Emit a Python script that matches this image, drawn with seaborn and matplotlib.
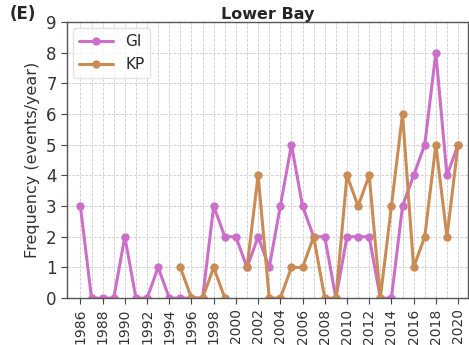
import numpy as np
import pandas as pd
import matplotlib
matplotlib.use("Agg")
import matplotlib.pyplot as plt
import seaborn as sns

years = list(range(1986, 2021))
gi = [3, 0, 0, 0, 2, 0, 0, 1, 0, 0, 0, 0, 3, 2, 2, 1, 2, 1, 3, 5, 3, 2, 2, 0, 2, 2, 2, 0, 0, 3, 4, 5, 8, 4, 5]
kp = [np.nan]*9 + [1, 0, 0, 1, 0, np.nan, 1, 4, 0, 0, 1, 1, 2, 0, 0, 4, 3, 4, 0, 3, 6, 1, 2, 5, 2, 5]

df = pd.DataFrame({"Year": years, "GI": gi, "KP": kp})
# segment ids so that gaps (missing years) are not bridged
df["seg"] = df["KP"].isna().cumsum()
kp_df = df.dropna(subset=["KP"])

sns.set_style("ticks")
plt.rcParams["font.family"] = ["DejaVu Sans"]

fig = plt.figure(figsize=(4.69, 3.45), dpi=100)
ax = fig.add_axes([0.143, 0.136, 0.855, 0.800])

c_gi = "#CC6FC8"
c_kp = "#C98C55"
sns.lineplot(data=df, x="Year", y="GI", ax=ax, color=c_gi, marker="o", markersize=6,
             markeredgewidth=0, linewidth=2.2, label="GI")
sns.lineplot(data=kp_df, x="Year", y="KP", ax=ax, color=c_kp, marker="o", markersize=6,
             markeredgewidth=0, linewidth=2.2, units="seg", estimator=None, label="KP")

ax.set_xlim(1984.8, 2020.9)
ax.set_ylim(0, 9)
ax.set_xticks(range(1986, 2021, 2))
ax.set_xticks(range(1986, 2021), minor=True)
ax.set_xticklabels([str(y) for y in range(1986, 2021, 2)], rotation=90, fontsize=10, color="#333333")
ax.set_yticks(range(0, 10))
ax.set_yticklabels([str(v) for v in range(0, 10)], fontsize=12, color="#333333")
ax.tick_params(axis="x", which="minor", length=0)
ax.tick_params(axis="both", which="major", length=4, color="#444444")
ax.grid(True, which="both", axis="x", linestyle="--", linewidth=0.6, color="#cccccc")
ax.grid(True, which="major", axis="y", linestyle="--", linewidth=0.6, color="#cccccc")
ax.set_axisbelow(True)
for s in ax.spines.values():
    s.set_visible(True)
    s.set_color("#555555")
    s.set_linewidth(1.0)

ax.set_xlabel("")
ax.set_ylabel("Frequency (events/year)", fontsize=11.5, color="#333333")
ax.set_title("Lower Bay", fontsize=11.5, fontweight="bold", pad=2)
fig.text(0.02, 0.945, "(E)", fontsize=12, fontweight="bold")

handles, labels = ax.get_legend_handles_labels()
leg = ax.legend(handles[:2], ["GI", "KP"], loc="upper left", fontsize=11, frameon=True,
                handlelength=2.2, borderaxespad=0.4)
leg.get_frame().set_edgecolor("#dddddd")

fig.savefig("out.png", dpi=100)
